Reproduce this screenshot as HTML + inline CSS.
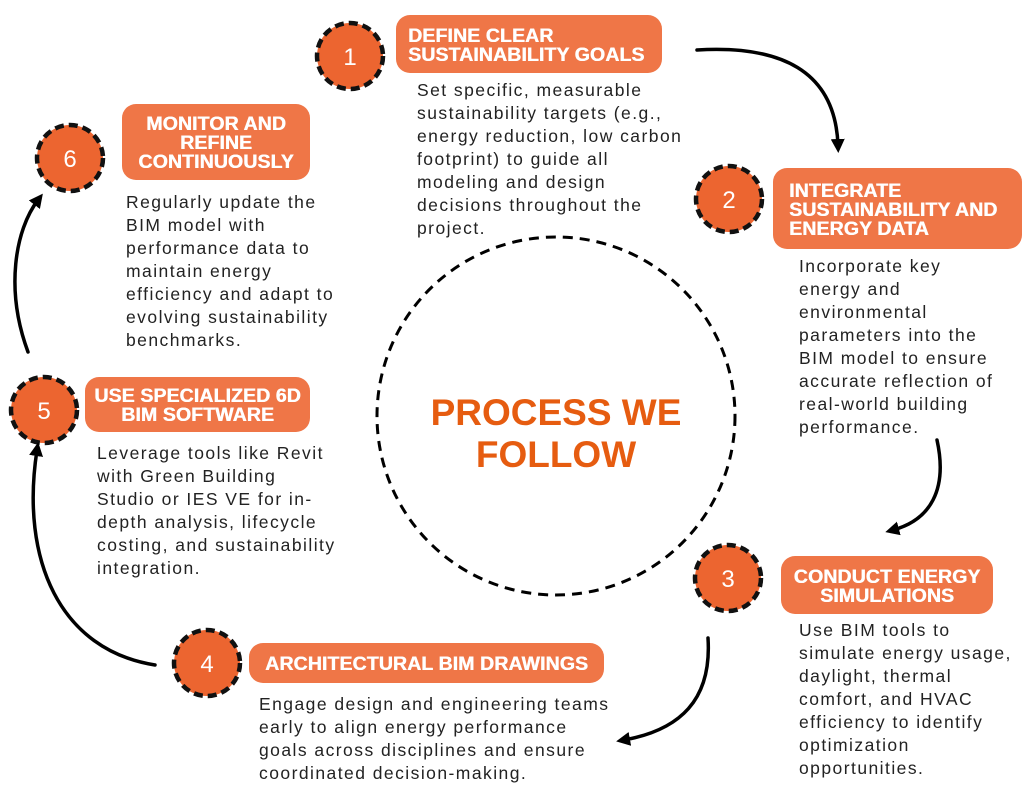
<!DOCTYPE html>
<html><head><meta charset="utf-8"><style>
*{margin:0;padding:0;box-sizing:border-box}
body{width:1024px;height:800px;background:#fff;position:relative;overflow:hidden;font-family:"Liberation Sans",sans-serif}
.box{position:absolute;background:#ef7647;border-radius:14px;color:#fff;font-weight:bold;font-size:19.5px;line-height:19px;letter-spacing:0.1px;display:flex;flex-direction:column;justify-content:center;text-shadow:0.5px 0 0 #fff;white-space:nowrap;padding-top:3px}
.c{text-align:center}
.t{position:absolute;color:#222;font-size:17.5px;line-height:23px;letter-spacing:1.45px;white-space:nowrap}
svg{position:absolute;left:0;top:0}
.title{position:absolute;left:400px;top:392px;width:312px;text-align:center;color:#e65c10;font-weight:bold;font-size:37px;line-height:42px}
</style></head><body>
<svg width="1024" height="800" viewBox="0 0 1024 800">
<defs><marker id="a" markerWidth="14" markerHeight="14" refX="6" refY="7" orient="auto" markerUnits="userSpaceOnUse" viewBox="0 0 14 14"><path d="M0,0 L14,7 L0,14 z" fill="#000"/></marker></defs>
<circle cx="556" cy="416" r="179" fill="none" stroke="#000" stroke-width="3" stroke-dasharray="10 7"/>
<g fill="#ec6530" stroke="#111" stroke-width="4.5" stroke-dasharray="9 5">
<circle cx="350" cy="56" r="33"/><circle cx="729" cy="199" r="33"/><circle cx="728" cy="578" r="33"/>
<circle cx="207" cy="663" r="33"/><circle cx="44" cy="410" r="33"/><circle cx="70" cy="158" r="33"/>
</g>
<g fill="#fff" font-size="24" text-anchor="middle" font-family="Liberation Sans,sans-serif">
<text x="350" y="65">1</text><text x="729" y="208">2</text><text x="728" y="587">3</text>
<text x="207" y="672">4</text><text x="44" y="419">5</text><text x="70" y="167">6</text>
</g>
<g fill="none" stroke="#000" stroke-width="3.5" stroke-linecap="round">
<path d="M697,50 C780,45 835,70 838,145" marker-end="url(#a)"/>
<path d="M937,440 C948,490 930,520 893,530" marker-end="url(#a)"/>
<path d="M708,638 C712,700 680,730 624,740" marker-end="url(#a)"/>
<path d="M155,665 C60,650 20,560 37,450" marker-end="url(#a)"/>
<path d="M28,352 C5,290 15,230 38,200" marker-end="url(#a)"/>
</g>
</svg>
<div class="box" style="left:396px;top:15px;width:266px;height:58px;padding-left:12px">DEFINE CLEAR<br>SUSTAINABILITY GOALS</div>
<div class="t" style="left:417px;top:79px">Set specific, measurable<br>sustainability targets (e.g.,<br>energy reduction, low carbon<br>footprint) to guide all<br>modeling and design<br>decisions throughout the<br>project.</div>
<div class="box" style="left:773px;top:168px;width:249px;height:81px;padding-left:16px">INTEGRATE<br>SUSTAINABILITY AND<br>ENERGY DATA</div>
<div class="t" style="left:799px;top:255px">Incorporate key<br>energy and<br>environmental<br>parameters into the<br>BIM model to ensure<br>accurate reflection of<br>real-world building<br>performance.</div>
<div class="box c" style="left:781px;top:556px;width:212px;height:58px">CONDUCT ENERGY<br>SIMULATIONS</div>
<div class="t" style="left:799px;top:619px">Use BIM tools to<br>simulate energy usage,<br>daylight, thermal<br>comfort, and HVAC<br>efficiency to identify<br>optimization<br>opportunities.</div>
<div class="box c" style="left:249px;top:643px;width:355px;height:40px">ARCHITECTURAL BIM DRAWINGS</div>
<div class="t" style="left:259px;top:693px">Engage design and engineering teams<br>early to align energy performance<br>goals across disciplines and ensure<br>coordinated decision-making.</div>
<div class="box c" style="left:85px;top:377px;width:225px;height:55px">USE SPECIALIZED 6D<br>BIM SOFTWARE</div>
<div class="t" style="left:97px;top:442px">Leverage tools like Revit<br>with Green Building<br>Studio or IES VE for in-<br>depth analysis, lifecycle<br>costing, and sustainability<br>integration.</div>
<div class="box c" style="left:122px;top:104px;width:188px;height:76px">MONITOR AND<br>REFINE<br>CONTINUOUSLY</div>
<div class="t" style="left:126px;top:191px">Regularly update the<br>BIM model with<br>performance data to<br>maintain energy<br>efficiency and adapt to<br>evolving sustainability<br>benchmarks.</div>
<div class="title">PROCESS WE<br>FOLLOW</div>
</body></html>
